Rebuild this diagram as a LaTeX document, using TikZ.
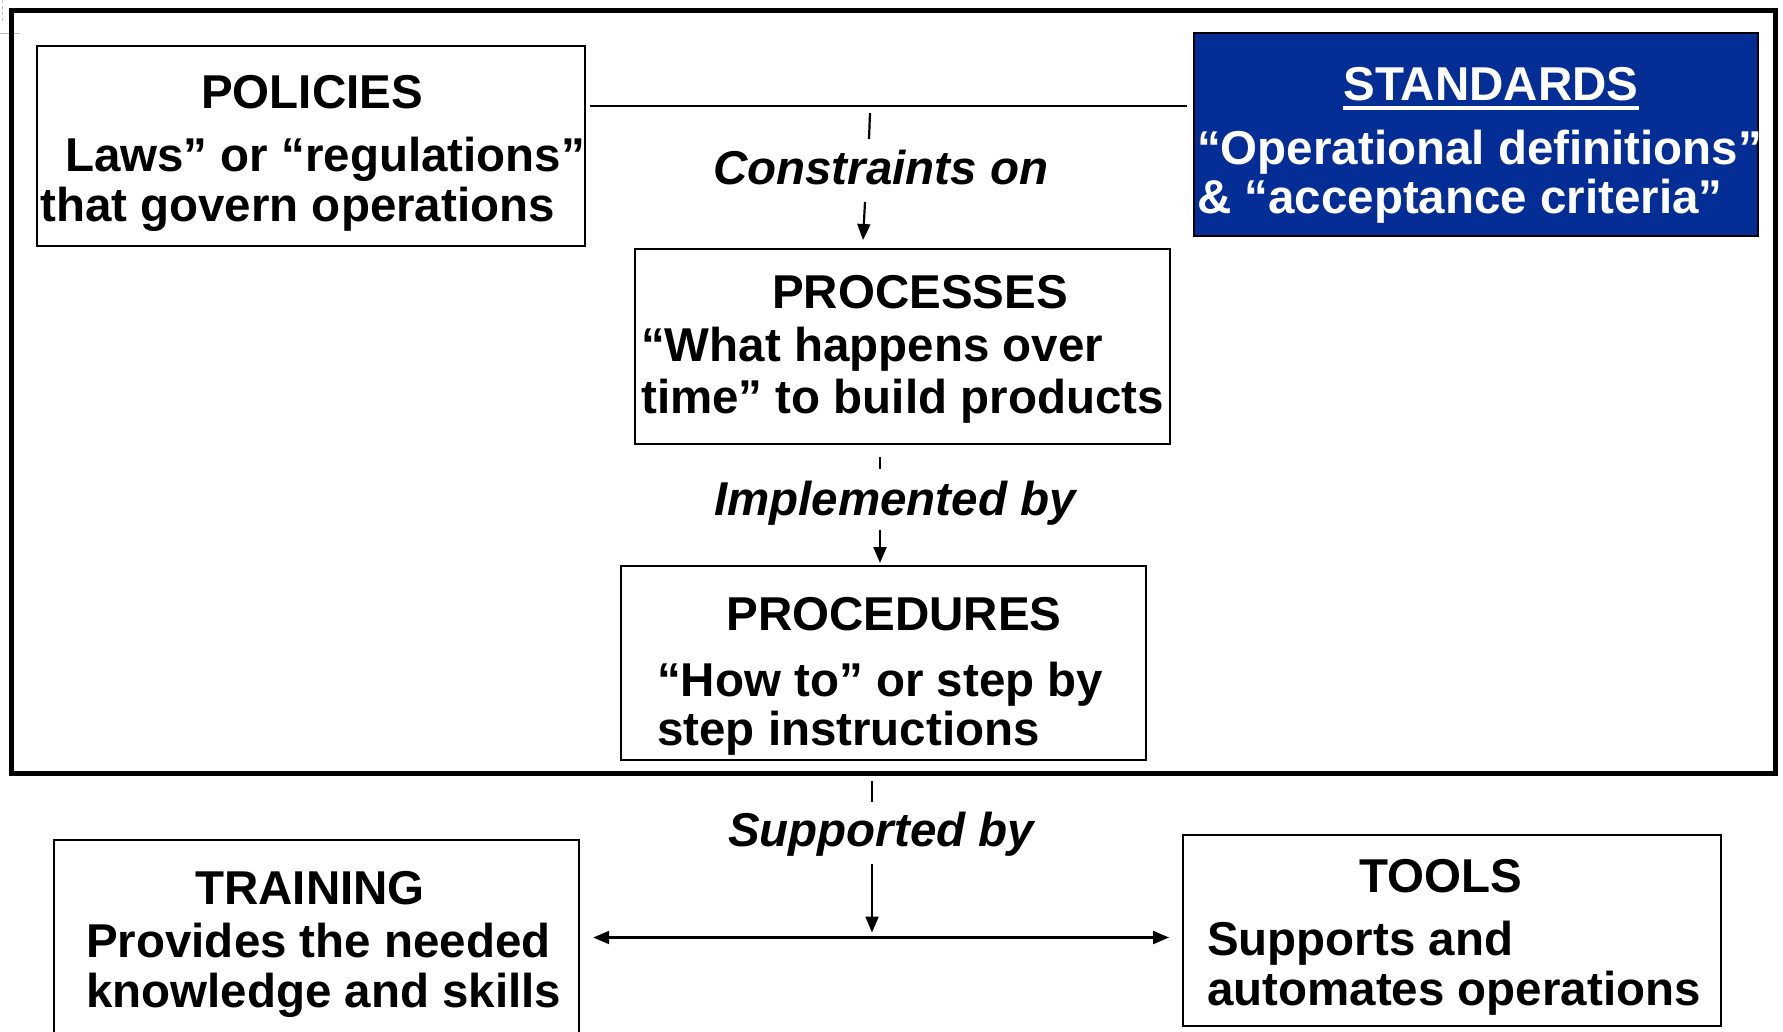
\documentclass[tikz,border=0pt]{standalone}
\usepackage{fontspec}
\setmainfont{Liberation Sans}
\usetikzlibrary{arrows.meta}

\definecolor{stdblue}{RGB}{4,46,150}
\newcommand\boxfont{\fontsize{47.5}{57}\selectfont\bfseries}
\newcommand\labfont{\fontsize{47.5}{57}\selectfont\bfseries\itshape}

\tikzset{
  box/.style={draw=black, line width=2.2pt, rectangle, inner sep=0pt, anchor=north west},
  txt/.style={inner sep=0pt, font=\boxfont},
  lab/.style={inner sep=0pt, font=\labfont, anchor=base west},
  link/.style={line width=2.2pt},
  arr/.style={line width=2.2pt, -{Triangle[length=16pt,width=13pt]}},
  dblarr/.style={line width=2.2pt, {Triangle[length=16pt,width=13pt]}-{Triangle[length=16pt,width=13pt]}},
}

\begin{document}
\begin{tikzpicture}[x=1pt,y=-1pt]
\useasboundingbox (0,0) rectangle (1783,1031);
\clip (0,0) rectangle (1783,1031);
\fill[white] (0,0) rectangle (1783,1031);

% faint corner marks
\draw[gray!50, line width=0.8pt, dashed] (2,0) -- (2,22);
\draw[gray!50, line width=0.8pt] (0,33) -- (20,33);

% outer frame
\node[draw=black, line width=4.5pt, rectangle, inner sep=0pt, anchor=north west,
      minimum width=1764pt, minimum height=763pt] (frame) at (9,8) {};

% boxes
\node[box, minimum width=548pt, minimum height=200pt] (pol) at (36,45) {};
\node[box, fill=stdblue, minimum width=564pt, minimum height=203pt] (std) at (1193,32) {};
\node[box, minimum width=535pt, minimum height=195pt] (proc) at (634,248) {};
\node[box, minimum width=525pt, minimum height=194pt] (proced) at (620,565) {};
\node[box, minimum width=525pt, minimum height=261pt] (train) at (53,839) {};
\node[box, minimum width=538pt, minimum height=191pt] (tools) at (1182,834) {};

% POLICIES
\node[txt, anchor=base] (polt) at (312,108) {POLICIES};
\node[txt, anchor=base west] (pol1) at (65,171) {Laws” or “regulations”};
\node[txt, anchor=base west] (pol2) at (40,221) {that govern operations};

% STANDARDS
\node[txt, anchor=base, text=white] (stdt) at (1491,100) {STANDARDS};
\draw[white, line width=4pt] ([yshift=-8pt]stdt.base west) -- ([yshift=-8pt]stdt.base east);
\node[txt, anchor=base west, text=white] (std1) at (1197,164) {“Operational definitions”};
\node[txt, anchor=base west, text=white] (std2) at (1197,213) {\& “acceptance criteria”};

% PROCESSES
\node[txt, anchor=base] (proct) at (920,308) {PROCESSES};
\node[txt, anchor=base west] (proc1) at (641,361) {“What happens over};
\node[txt, anchor=base west] (proc2) at (641,413) {time” to build products};

% PROCEDURES
\node[txt, anchor=base] (procedt) at (894,630) {PROCEDURES};
\node[txt, anchor=base west] (proced1) at (657,696) {“How to” or step by};
\node[txt, anchor=base west] (proced2) at (657,745) {step instructions};

% TRAINING
\node[txt, anchor=base] (traint) at (310,904) {TRAINING};
\node[txt, anchor=base west] (train1) at (86,957) {Provides the needed};
\node[txt, anchor=base west] (train2) at (86,1007) {knowledge and skills};

% TOOLS
\node[txt, anchor=base] (toolst) at (1441,892) {TOOLS};
\node[txt, anchor=base west] (tools1) at (1207,955) {Supports and};
\node[txt, anchor=base west] (tools2) at (1207,1005) {automates operations};

% connector labels
\node[lab] (lcon) at (713,184) {Constraints on};
\node[lab] (limp) at (714,515) {Implemented by};
\node[lab] (lsup) at (728,846) {Supported by};

% policies -- standards, with the "constraints on" drop to processes
\coordinate (hl) at (0,106);
\draw[link] ([xshift=4pt]pol.east |- hl) -- ([xshift=-6pt]std.west |- hl);
\coordinate (c1a) at (870,113);
\coordinate (c1b) at (869,139);
\draw[link] (c1a) -- (c1b);
\coordinate (c1c) at (865,202);
\draw[arr] (c1c) -- ([yshift=8pt]863,0 |- proc.north);

% processes -> procedures
\coordinate (c2a) at (880,457);
\coordinate (c2b) at (880,469);
\draw[link] (c2a) -- (c2b);
\coordinate (c2c) at (880,530);
\draw[arr] (c2c) -- ([yshift=2pt]c2c |- proced.north);

% procedures frame -> training / tools
\coordinate (c3a) at (872,781);
\coordinate (c3b) at (872,802);
\draw[link] (c3a) -- (c3b);
\coordinate (c3c) at (872,864);
\coordinate (hb) at (0,937.5);
\draw[arr] (c3c) -- ([yshift=5pt]c3c |- hb);
\draw[dblarr] ([xshift=13pt]train.east |- hb) -- ([xshift=-13pt]tools.west |- hb);
\end{tikzpicture}
\end{document}
